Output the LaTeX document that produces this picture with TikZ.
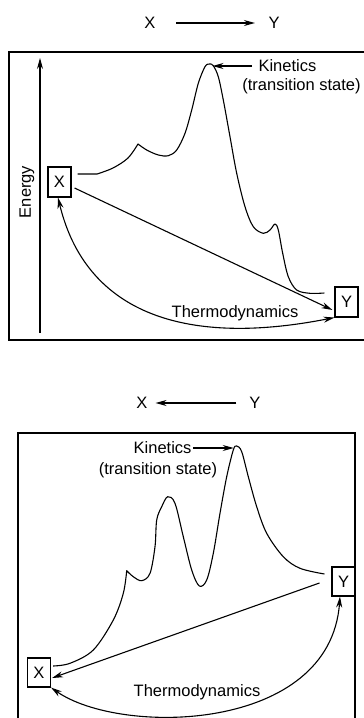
\documentclass[tikz,border=0pt]{standalone}
\usepackage{fontspec}
\setmainfont{Liberation Sans}
\usepackage{tikz}
\usetikzlibrary{arrows.meta}

\begin{document}
\begin{tikzpicture}[x=1pt, y=-1pt, line width=1.1pt,
    font=\fontsize{16.5}{19}\selectfont,
    lbl/.style={inner sep=0pt},
    statebox/.style={draw, minimum width=23pt, minimum height=30pt, inner sep=0pt},
    arr/.style={-{Stealth[length=11pt, width=6pt]}},
    dblarr/.style={{Stealth[length=11pt, width=6pt]}-{Stealth[length=11pt, width=6pt]}},
    curve/.style={line width=1.1pt, line join=round}]
    \useasboundingbox (0,0) rectangle (364,718);

    % forward reaction X -> Y
    \node[lbl] (tx) at (150,23) {X};
    \node[lbl] (ty) at (274,23) {Y};
    \draw[arr, shorten <=20pt, shorten >=13pt] (tx) -- (ty);

    \draw (366,52) -- (9,52) -- (9,340) -- (366,340);
    \coordinate (ebot) at (40,333);
    \coordinate (etop) at (40,58);
    \draw[arr] (ebot) -- (etop);
    \node[rotate=90] (energy) at (27,192) {Energy};

    \node[statebox] (xa) at (59.5,182) {X};
    \node[statebox] (ya) at (346.5,302) {Y};

    \coordinate (sa) at ([shift={(6,-8)}]xa.east);
    \coordinate (pa) at (209.5,64);
    \coordinate (ea) at ([shift={(-10,-9)}]ya.west);
    \draw[curve] (sa) -- (97,174)
      -- plot[smooth, tension=0.55] coordinates {(97,174) (113,168) (128,158) (138,144)}
      -- plot[smooth, tension=0.55] coordinates {(138,144) (146.7,150) (158.3,155) (168.3,155.7)
         (176.7,150) (185,133.3) (191.7,110) (198.3,83.3) (205,66.7) (pa) (213.3,65.7)
         (218.3,76.7) (223.3,100) (230,136.7) (236.7,173.3) (245,206.7) (253.3,226.7)
         (263.3,233.3) (270,230) (275,224) (278.3,230) (282.7,253.3) (288.3,276.7)
         (296.7,290) (310,293.3) (ea)};

    \node[lbl, anchor=west] (kina) at (258,66) {Kinetics};
    \node[lbl] (tsa) at (301.5,86) {(transition state)};
    \draw[arr, shorten <=6pt] (kina.west) -- ([xshift=3pt]pa |- kina.west);

    \draw[arr] ([shift={(3,6)}]xa.east) -- ([shift={(-2,8)}]ya.west);
    \draw[dblarr] ([xshift=-1.5pt]xa.south) .. controls (85,310) and (180,348) .. (ya.south west);
    \node[lbl] (tda) at (235,313) {Thermodynamics};

    % reverse reaction Y -> X
    \node[lbl] (tx2) at (142,403) {X};
    \node[lbl] (ty2) at (255,403) {Y};
    \draw[arr, shorten <=12.5pt, shorten >=7.5pt] (ty2) -- (tx2);

    \draw (18,720) -- (18,433) -- (355,433) -- (355,720);

    \node[statebox, minimum height=29pt] (xb) at (39,672.5) {X};
    \node[statebox, minimum height=29pt] (yb) at (343.5,581.5) {Y};

    \coordinate (sb) at ([shift={(2,-6.5)}]xb.east);
    \coordinate (pb) at (236.7,446);
    \coordinate (eb) at ([shift={(-7,-7.5)}]yb.west);
    \draw[curve] (sb)
      -- plot[smooth, tension=0.55] coordinates {(sb) (70,663.3) (93.3,650) (113.3,620) (123.3,593.3) (126.7,570.7)}
      -- plot[smooth, tension=0.55] coordinates {(126.7,570.7) (133.3,576.7) (141.7,580.7) (150,573.3)
         (155,546.7) (156.7,520) (161.7,506.7) (167.7,496.7) (175,503.3) (183.3,536.7)
         (191.7,570) (199.3,586) (206.7,580) (213.3,553.3) (220,513.3) (226.7,476.7)
         (233.3,450) (pb) (241.7,451.7) (248.3,476.7) (256.7,506.7) (266.7,533.3)
         (283.3,556.7) (300,568.3) (eb)};

    \node[lbl, anchor=east] (kinb) at (192,448) {Kinetics};
    \node[lbl] (tsb) at (158,470) {(transition state)};
    \draw[arr, shorten <=1pt] (kinb.east) -- ([xshift=-3pt]pb |- kinb.east);

    \draw[arr] ([shift={(-12,1.5)}]yb.west) -- ([shift={(1,5.5)}]xb.east);
    \draw[dblarr] (xb.south east) .. controls (120,736) and (330,733) .. ([xshift=-3.5pt]yb.south);
    \node[lbl] (tdb) at (197,692) {Thermodynamics};
\end{tikzpicture}
\end{document}
